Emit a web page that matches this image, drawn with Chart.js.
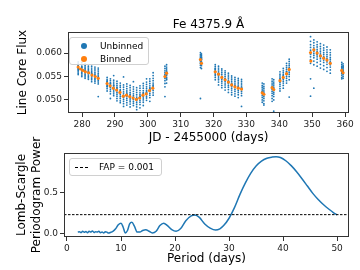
<!DOCTYPE html>
<html>
<head>
<meta charset="utf-8">
<script src="https://cdn.jsdelivr.net/npm/chart.js@4"></script>
<style>
  html, body { margin: 0; padding: 0; background: #fff; }
  body { width: 360px; height: 270px; position: relative; overflow: hidden; font-family: 'DejaVu Sans', sans-serif; }
  #c1 { position: absolute; left: 0; top: 0; }
  #c2 { position: absolute; left: 0; top: 135px; }
  .legend { position: absolute; background: rgba(255,255,255,0.85); border: 1px solid #d0d0d0; border-radius: 3px; box-sizing: border-box; font-size: 9px; color: #000; }
  .dot { position: absolute; width: 6px; height: 6px; border-radius: 50%; }
  .dash { position: absolute; height: 0; border-top: 1px dashed #000; }
  .ltxt { position: absolute; line-height: 10px; white-space: nowrap; }
</style>
</head>
<body>
<canvas id="c1" width="360" height="148"></canvas>
<canvas id="c2" width="360" height="135"></canvas>
<div id="leg1" class="legend" style="left:69px;top:37px;width:80px;height:28px;"></div>
<div id="leg2" class="legend" style="left:69px;top:158px;width:93px;height:18px;"></div>
<script>
// ---------------- DATA ----------------
const titleText = 'Fe 4375.9 Å';
const seriesNames = ['Unbinned', 'Binned'];
const fapName = 'FAP = 0.001';

// Observation nights (JD - 2455000) and the unbinned flux values measured in each
const obsDays = [278.8, 279.9, 280.9, 281.9, 282.9, 283.9, 284.9,
  287.6, 288.6, 289.6, 290.6, 291.6, 292.6, 293.6, 294.6, 295.6, 296.6, 297.6, 298.6, 299.6, 300.6, 301.6,
  305.2, 305.7, 316.0, 316.3,
  320.5, 321.5, 322.5, 323.5, 324.5, 325.5, 326.5, 327.5, 328.5,
  334.8, 335.3, 337.8, 338.3, 340.2, 341.2, 342.2, 343.0,
  349.5, 350.5, 351.5, 352.5, 353.5, 354.5, 355.5, 359.0, 359.4];
const obsFlux = [
  [0.0578,0.0575,0.0573,0.0571,0.0569,0.0567,0.0565,0.0563,0.0560,0.0557,0.0554,0.0581],
  [0.0580,0.0576,0.0572,0.0569,0.0566,0.0564,0.0562,0.0559,0.0556,0.0553,0.0550,0.0570],
  [0.0577,0.0573,0.0570,0.0567,0.0564,0.0561,0.0558,0.0555,0.0552,0.0549,0.0546,0.0562],
  [0.0575,0.0571,0.0568,0.0565,0.0562,0.0559,0.0556,0.0553,0.0550,0.0547,0.0544,0.0560],
  [0.0572,0.0568,0.0564,0.0561,0.0558,0.0555,0.0552,0.0549,0.0546,0.0543,0.0539,0.0556],
  [0.0570,0.0566,0.0562,0.0558,0.0555,0.0552,0.0549,0.0546,0.0543,0.0540,0.0536,0.0551],
  [0.0568,0.0564,0.0560,0.0556,0.0553,0.0550,0.0547,0.0544,0.0541,0.0538,0.0534,0.0507],
  [0.0548,0.0544,0.0541,0.0538,0.0536,0.0533,0.0531,0.0528,0.0524,0.0519,0.0539,0.0529],
  [0.0545,0.0541,0.0537,0.0534,0.0531,0.0528,0.0526,0.0522,0.0518,0.0513,0.0535,0.0503],
  [0.0542,0.0538,0.0534,0.0530,0.0527,0.0524,0.0521,0.0517,0.0513,0.0509,0.0531,0.0552],
  [0.0540,0.0535,0.0531,0.0527,0.0523,0.0520,0.0516,0.0512,0.0508,0.0503,0.0525,0.0498],
  [0.0536,0.0531,0.0527,0.0522,0.0518,0.0515,0.0511,0.0507,0.0503,0.0498,0.0520,0.0494],
  [0.0532,0.0527,0.0522,0.0517,0.0513,0.0509,0.0505,0.0501,0.0497,0.0492,0.0486,0.0549],
  [0.0534,0.0529,0.0524,0.0519,0.0515,0.0511,0.0507,0.0503,0.0499,0.0494,0.0489,0.0513],
  [0.0531,0.0526,0.0521,0.0516,0.0512,0.0508,0.0504,0.0500,0.0496,0.0491,0.0485,0.0510],
  [0.0528,0.0523,0.0518,0.0513,0.0509,0.0505,0.0501,0.0497,0.0493,0.0488,0.0506,0.0539],
  [0.0526,0.0521,0.0516,0.0511,0.0506,0.0502,0.0498,0.0494,0.0490,0.0485,0.0479,0.0503],
  [0.0530,0.0525,0.0520,0.0515,0.0511,0.0507,0.0503,0.0499,0.0495,0.0490,0.0508,0.0483],
  [0.0535,0.0530,0.0525,0.0520,0.0516,0.0512,0.0508,0.0504,0.0500,0.0495,0.0514,0.0488],
  [0.0538,0.0533,0.0528,0.0524,0.0520,0.0516,0.0512,0.0508,0.0504,0.0499,0.0517,0.0545],
  [0.0545,0.0540,0.0535,0.0530,0.0526,0.0522,0.0518,0.0514,0.0510,0.0505,0.0524,0.0497],
  [0.0552,0.0546,0.0541,0.0536,0.0532,0.0528,0.0524,0.0520,0.0515,0.0510,0.0530,0.0558],
  [0.0572,0.0567,0.0562,0.0558,0.0554,0.0550,0.0546,0.0541,0.0535,0.0528,0.0507,0.0552],
  [0.0575,0.0570,0.0566,0.0562,0.0558,0.0555,0.0552,0.0548,0.0543,0.0536,0.0560,0.0545],
  [0.0601,0.0597,0.0594,0.0591,0.0588,0.0586,0.0584,0.0581,0.0578,0.0574,0.0569,0.0503],
  [0.0598,0.0595,0.0592,0.0589,0.0586,0.0583,0.0580,0.0577,0.0573,0.0567,0.0587,0.0590],
  [0.0575,0.0571,0.0567,0.0564,0.0561,0.0558,0.0555,0.0552,0.0548,0.0543,0.0560,0.0566],
  [0.0572,0.0568,0.0564,0.0560,0.0557,0.0554,0.0551,0.0547,0.0543,0.0538,0.0556,0.0532],
  [0.0566,0.0562,0.0558,0.0554,0.0550,0.0547,0.0544,0.0540,0.0536,0.0531,0.0549,0.0526],
  [0.0562,0.0558,0.0554,0.0550,0.0546,0.0543,0.0540,0.0536,0.0532,0.0527,0.0545,0.0521],
  [0.0557,0.0553,0.0549,0.0545,0.0541,0.0538,0.0535,0.0531,0.0527,0.0522,0.0539,0.0516],
  [0.0551,0.0547,0.0543,0.0539,0.0535,0.0532,0.0529,0.0525,0.0521,0.0516,0.0533,0.0511],
  [0.0548,0.0544,0.0540,0.0536,0.0532,0.0529,0.0526,0.0522,0.0518,0.0513,0.0530,0.0508],
  [0.0546,0.0542,0.0538,0.0534,0.0530,0.0527,0.0524,0.0520,0.0516,0.0511,0.0528,0.0505],
  [0.0544,0.0540,0.0536,0.0532,0.0528,0.0525,0.0522,0.0518,0.0514,0.0509,0.0526,0.0486],
  [0.0536,0.0531,0.0527,0.0523,0.0519,0.0516,0.0513,0.0509,0.0505,0.0500,0.0495,0.0517],
  [0.0534,0.0529,0.0525,0.0521,0.0517,0.0514,0.0511,0.0507,0.0503,0.0498,0.0492,0.0489],
  [0.0545,0.0540,0.0536,0.0532,0.0528,0.0525,0.0522,0.0518,0.0514,0.0509,0.0503,0.0497],
  [0.0543,0.0538,0.0534,0.0530,0.0526,0.0523,0.0520,0.0516,0.0512,0.0507,0.0500,0.0476],
  [0.0560,0.0555,0.0551,0.0547,0.0543,0.0540,0.0537,0.0533,0.0529,0.0524,0.0519,0.0545],
  [0.0567,0.0562,0.0558,0.0554,0.0550,0.0547,0.0544,0.0540,0.0536,0.0531,0.0525,0.0552],
  [0.0578,0.0573,0.0569,0.0565,0.0561,0.0557,0.0554,0.0550,0.0546,0.0541,0.0536,0.0560],
  [0.0587,0.0582,0.0577,0.0573,0.0569,0.0566,0.0563,0.0559,0.0555,0.0550,0.0543,0.0506],
  [0.0635,0.0625,0.0618,0.0612,0.0606,0.0601,0.0597,0.0592,0.0586,0.0578,0.0545,0.0508],
  [0.0628,0.0622,0.0616,0.0611,0.0607,0.0603,0.0599,0.0595,0.0590,0.0583,0.0575,0.0525],
  [0.0624,0.0618,0.0613,0.0608,0.0604,0.0600,0.0596,0.0592,0.0587,0.0580,0.0572,0.0598],
  [0.0620,0.0614,0.0609,0.0604,0.0600,0.0596,0.0592,0.0588,0.0583,0.0576,0.0568,0.0593],
  [0.0617,0.0611,0.0606,0.0601,0.0597,0.0593,0.0589,0.0585,0.0580,0.0573,0.0565,0.0590],
  [0.0613,0.0607,0.0602,0.0597,0.0593,0.0589,0.0585,0.0581,0.0576,0.0569,0.0561,0.0586],
  [0.0607,0.0601,0.0596,0.0591,0.0587,0.0583,0.0579,0.0575,0.0570,0.0564,0.0557,0.0580],
  [0.0580,0.0576,0.0572,0.0569,0.0566,0.0563,0.0560,0.0557,0.0553,0.0548,0.0545,0.0562],
  [0.0577,0.0573,0.0569,0.0566,0.0563,0.0560,0.0557,0.0554,0.0550,0.0546,0.0560,0.0571]
];

// Binned values
const binDays = [278.8, 279.5, 280.2, 281.0, 282.0, 283.0, 284.0, 284.9,
  287.6, 288.5, 289.5, 290.5, 291.5, 292.5, 293.5, 294.5, 295.5, 296.5, 297.5, 298.5, 299.5, 300.5, 301.5,
  305.2, 305.7, 316.0, 316.3,
  320.5, 321.5, 322.5, 323.5, 324.5, 325.5, 326.5, 327.5, 328.5,
  334.8, 335.3, 337.8, 338.3, 340.2, 341.2, 342.2, 343.0,
  349.5, 349.6, 350.5, 351.5, 352.5, 353.5, 354.5, 355.5, 359.0, 359.4];
const binFlux = [0.0570, 0.0566, 0.0563, 0.0560, 0.0558, 0.0553, 0.0550, 0.0546,
  0.0535, 0.0530, 0.0525, 0.0521, 0.0516, 0.0508, 0.0510, 0.0507, 0.0504, 0.0501, 0.0504, 0.0510, 0.0513, 0.0520, 0.0525,
  0.0550, 0.0557, 0.0586, 0.0578,
  0.0560, 0.0555, 0.0548, 0.0543, 0.0538, 0.0532, 0.0528, 0.0525, 0.0523,
  0.0515, 0.0512, 0.0526, 0.0522, 0.0541, 0.0548, 0.0556, 0.0565,
  0.0601, 0.0583, 0.0607, 0.0600, 0.0594, 0.0589, 0.0585, 0.0578, 0.0563, 0.0558];

// Lomb-Scargle periodogram
const periods = [2.0, 2.3, 2.6, 2.9, 3.2, 3.5, 3.8, 4.1, 4.4, 4.7, 5.0, 5.3, 5.6, 5.9, 6.2, 6.5, 6.8, 7.1, 7.4, 7.7, 8.0,
  8.5, 9.0, 9.5, 10.0, 10.4, 10.8, 11.2, 11.6, 12.0, 12.5, 13.0, 13.5, 14.0, 14.6, 15.2, 15.8, 16.5, 17.2, 17.9, 18.6,
  19.4, 20.2, 21.0, 22.0, 23.0, 23.7, 24.5, 25.5, 26.5, 27.5, 28.3, 29.0, 30.0, 31.0, 32.0, 33.0, 34.0, 35.0, 36.0,
  37.0, 38.0, 38.7, 39.5, 40.5, 41.5, 42.5, 43.5, 44.5, 45.5, 46.5, 47.5, 48.5, 49.3, 50.0];
const power = [0.020, 0.025, 0.015, 0.030, 0.018, 0.028, 0.012, 0.030, 0.020, 0.035, 0.015, 0.025, 0.020, 0.030, 0.012, 0.020, 0.010, 0.025, 0.020, 0.008, 0.015,
  0.030, 0.060, 0.110, 0.130, 0.080, 0.010, 0.040, 0.120, 0.140, 0.090, 0.020, 0.020, 0.040, 0.050, 0.030, 0.010, 0.030, 0.100, 0.130, 0.100,
  0.050, 0.030, 0.060, 0.160, 0.220, 0.230, 0.200, 0.120, 0.070, 0.045, 0.060, 0.100, 0.190, 0.320, 0.480, 0.620, 0.740, 0.830, 0.890,
  0.925, 0.940, 0.945, 0.935, 0.895, 0.835, 0.760, 0.675, 0.585, 0.495, 0.420, 0.355, 0.300, 0.260, 0.230];
const fapLevel = 0.234;

const fluxTicks = [0.050, 0.055, 0.060];
const dayTicks = [280, 290, 300, 310, 320, 330, 340, 350, 360];
const powerTicks = [0.0, 0.5];
const periodTicks = [0, 10, 20, 30, 40, 50];

// ---------------- STYLE ----------------
const FONT = 'DejaVu Sans';
const BLUE = '#1f77b4', ORANGE = '#ff7f0e';

const unbinnedPts = [];
obsDays.forEach((d, i) => obsFlux[i].forEach(f => unbinnedPts.push({x: d, y: f})));
const binnedPts = binDays.map((d, i) => ({x: d, y: binFlux[i]}));
const pgPts = periods.map((p, i) => ({x: p, y: power[i]}));

const frame = {
  id: 'frame',
  afterDatasetsDraw(chart) {
    const a = chart.chartArea, ctx = chart.ctx;
    ctx.save();
    ctx.strokeStyle = '#333';
    ctx.lineWidth = 1;
    ctx.strokeRect(Math.round(a.left) + 0.5, Math.round(a.top) + 0.5, Math.round(a.right - a.left) - 1, Math.round(a.bottom - a.top) - 1);
    ctx.restore();
  }
};

function axis(min, max, ticks, fmt, fit, title, titlePad, isY) {
  return {
    type: 'linear', min, max,
    afterBuildTicks: s => { s.ticks = ticks.map(v => ({value: v})); },
    afterFit: s => { if (isY) s.width = fit; else s.height = fit; },
    grid: { display: true, drawOnChartArea: false, drawTicks: true, tickLength: 4, color: '#333', tickColor: '#333' },
    border: { display: false },
    ticks: { font: {family: FONT, size: 9}, color: '#222', padding: 2, maxRotation: 0, autoSkip: false, callback: fmt },
    title: { display: true, text: title, font: {family: FONT, size: 12}, color: '#000', padding: titlePad }
  };
}

new Chart(document.getElementById('c1'), {
  type: 'scatter',
  data: { datasets: [
    { label: seriesNames[1], data: binnedPts, backgroundColor: ORANGE, borderWidth: 0, pointRadius: 1.6 },
    { label: seriesNames[0], data: unbinnedPts, backgroundColor: BLUE, borderWidth: 0, pointRadius: 0.9 }
  ]},
  options: {
    responsive: false, animation: false, devicePixelRatio: 1,
    layout: { padding: { left: 0, right: 11, top: 0, bottom: 0 } },
    plugins: {
      legend: { display: false }, tooltip: { enabled: false },
      title: { display: true, fullSize: false, text: titleText, font: {family: FONT, size: 12, weight: 'normal'}, color: '#000', padding: {top: 17.6, bottom: 0} }
    },
    scales: {
      x: axis(275.7, 361.2, dayTicks, v => String(v), 35, 'JD - 2455000 (days)', {top: 0, bottom: 2.8}, false),
      y: axis(0.0472, 0.0645, fluxTicks, v => v.toFixed(3), 68, 'Line Core Flux', {top: 15.8, bottom: 0}, true)
    }
  },
  plugins: [frame]
});

new Chart(document.getElementById('c2'), {
  type: 'scatter',
  data: { datasets: [
    { label: fapName, data: [{x: -0.55, y: fapLevel}, {x: 52.2, y: fapLevel}], showLine: true, borderColor: '#000', borderWidth: 1, borderDash: [2.5, 1.5], pointRadius: 0 },
    { label: 'Power', data: pgPts, showLine: true, borderColor: BLUE, borderWidth: 1.5, pointRadius: 0, cubicInterpolationMode: 'monotone' }
  ]},
  options: {
    responsive: false, animation: false, devicePixelRatio: 1,
    layout: { padding: { left: 0, right: 11, top: 18, bottom: 0 } },
    plugins: { legend: { display: false }, tooltip: { enabled: false } },
    scales: {
      x: axis(-0.55, 52.2, periodTicks, v => String(v), 33, 'Period (days)', {top: 0, bottom: 3.8}, false),
      y: axis(-0.04, 0.99, powerTicks, v => v.toFixed(1), 64, ['Lomb-Scargle', 'Periodogram Power'], {top: 15.1, bottom: 0}, true)
    }
  },
  plugins: [frame]
});

// HTML legends (labels from the series names)
const leg1 = document.getElementById('leg1');
leg1.innerHTML =
  '<div class="dot" style="left:11px;top:4.5px;background:' + BLUE + '"></div>' +
  '<div class="ltxt" style="left:30px;top:2.5px">' + seriesNames[0] + '</div>' +
  '<div class="dot" style="left:11px;top:17.5px;background:' + ORANGE + '"></div>' +
  '<div class="ltxt" style="left:30px;top:15.5px">' + seriesNames[1] + '</div>';
const leg2 = document.getElementById('leg2');
leg2.innerHTML =
  '<div class="dash" style="left:5px;top:8px;width:13px;"></div>' +
  '<div class="ltxt" style="left:29px;top:3px">' + fapName + '</div>';
</script>
</body>
</html>
